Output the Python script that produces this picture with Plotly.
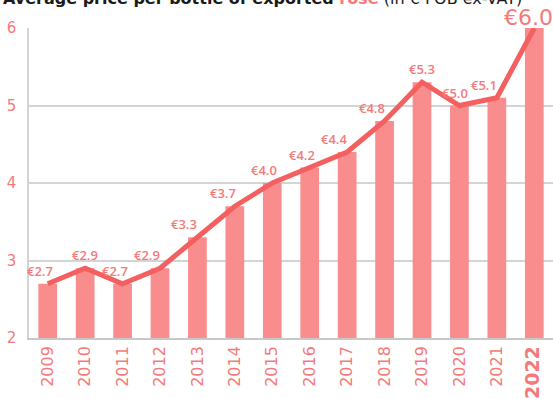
import plotly.graph_objects as go

# Average price per bottle of exported rosé, € FOB ex-VAT
years = ["2009", "2010", "2011", "2012", "2013", "2014", "2015",
         "2016", "2017", "2018", "2019", "2020", "2021", "2022"]
prices = [2.7, 2.9, 2.7, 2.9, 3.3, 3.7, 4.0, 4.2, 4.4, 4.8, 5.3, 5.0, 5.1, 6.0]
y_ticks = [2, 3, 4, 5, 6]

BAR = "#F98C8C"
LINE = "#F45F5F"
TXT = "#F47A7A"
FONT = "DejaVu Sans"
LABEL_FONT = "Open Sans"

tick_text = years[:-1] + [f"<b><span style='font-size:19px'>{years[-1]}</span></b>"]

fig = go.Figure()
fig.add_trace(go.Bar(x=years, y=prices, marker=dict(color=BAR, line=dict(width=0)),
                     hoverinfo="skip"))
fig.add_trace(go.Scatter(x=years, y=prices, mode="lines",
                         line=dict(color=LINE, width=5), cliponaxis=False))

# value labels above each point, nudged left where the line climbs to the right;
# the latest year is emphasised
n = len(prices)
for i, v in enumerate(prices):
    if i == n - 1:
        fig.add_annotation(
            x=i, y=v, xref="x", yref="y", text=f"€{v:.1f}", showarrow=False,
            xanchor="center", yanchor="bottom", yshift=-4, xshift=-6,
            font=dict(family=FONT, size=22, color=TXT))
        continue
    rise = prices[i + 1] - v
    xs = -min(13, 40 * rise) if rise > 0 else 0
    fig.add_annotation(
        x=i, y=v, xref="x", yref="y", text=f"€{v:.1f}", showarrow=False,
        xanchor="center", yanchor="bottom", yshift=2, xshift=xs,
        font=dict(family=LABEL_FONT, size=13, color=TXT, weight=600))

fig.add_annotation(
    xref="paper", yref="paper", x=-0.053, y=1, xanchor="left", yanchor="bottom",
    yshift=18, showarrow=False,
    text=("<b>Average price per bottle of exported </b>"
          f"<b><span style='color:{TXT}'>rosé</span></b>"
          " (in € FOB ex-VAT)"),
    font=dict(family=FONT, size=16, color="#1a1a1a"))

fig.update_layout(
    width=553, height=399,
    margin=dict(l=29, r=0, t=28, b=58),
    paper_bgcolor="white", plot_bgcolor="white",
    showlegend=False, bargap=0.5,
    font=dict(family=FONT, color=TXT),
    xaxis=dict(type="category", tickmode="array", tickvals=years, ticktext=tick_text,
               tickangle=-90, tickfont=dict(size=16, color=TXT),
               showline=True, linecolor="#c8c8c8", linewidth=1.5,
               ticks="", range=[-0.5, 13.5], fixedrange=True),
    yaxis=dict(range=[2, 6], tickvals=y_ticks, tickfont=dict(size=15, color=TXT),
               showgrid=True, gridcolor="#d4d4d4", gridwidth=1.5,
               showline=True, linecolor="#d4d4d4", linewidth=1.5,
               ticks="", ticklabelstandoff=8, zeroline=False, fixedrange=True),
)

fig.write_html("out.html")
